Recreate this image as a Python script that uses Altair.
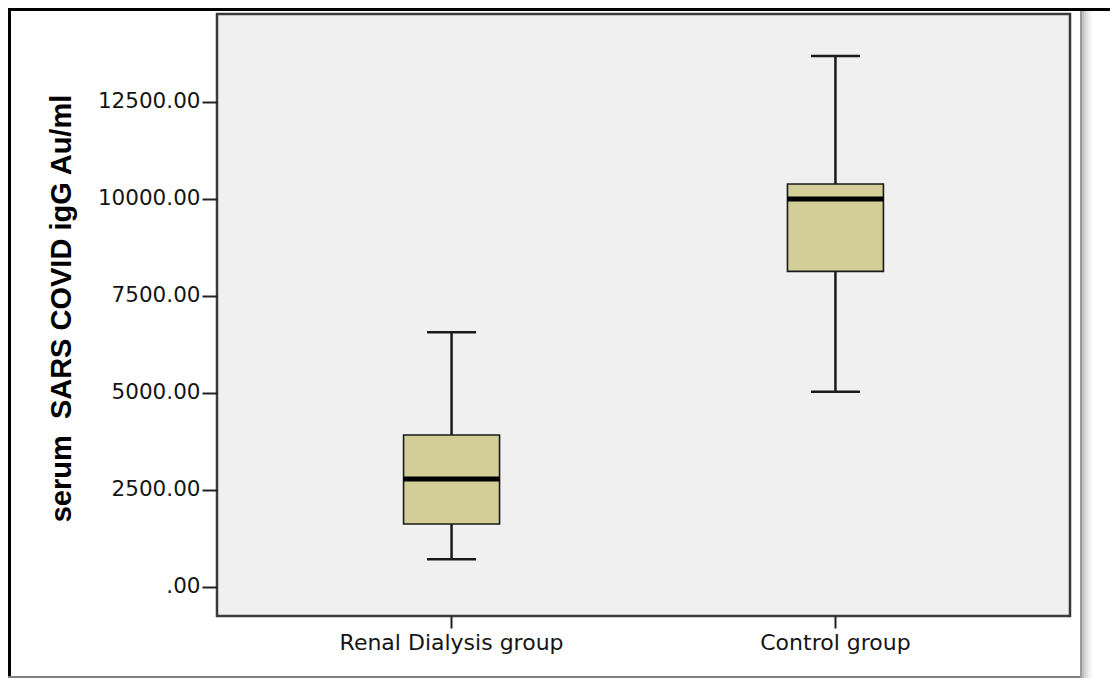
import altair as alt
import pandas as pd

groups = ["Renal Dialysis group", "Control group"]
lower = [706, 5026]
q1 = [1616, 8126]
median = [2776, 9992]
q3 = [3910, 10379]
upper = [6557, 13678]

y_ticks = [0, 2500, 5000, 7500, 10000, 12500]

df = pd.DataFrame({"group": groups, "lower": lower, "q1": q1,
                   "median": median, "q3": q3, "upper": upper})

W, H = 853, 602
PL, PT = 209, 6

xenc = alt.X("group:N", sort=groups,
             scale=alt.Scale(domain=groups, paddingInner=0.75, paddingOuter=0.486),
             axis=alt.Axis(title=None, labelAngle=0, domain=False, ticks=True,
                           tickSize=12, tickWidth=2, tickColor="#222",
                           labelFont="DejaVu Sans", labelFontSize=22, labelLimit=0,
                           labelColor="#151515", labelPadding=4))
yscale = alt.Scale(domain=[-755, 14760], nice=False, zero=False)
yaxis = alt.Axis(title="serum\u00a0 SARS COVID igG Au/ml", values=y_ticks,
                 labelExpr="datum.value == 0 ? '.00' : format(datum.value, '.2f')",
                 grid=False, domain=False, tickSize=15, tickWidth=2, tickColor="#222",
                 labelFont="DejaVu Sans", labelFontSize=21.5, labelColor="#151515",
                 labelPadding=2, labelLimit=0,
                 titleFont="Liberation Sans", titleFontSize=29, titleFontWeight="bold",
                 titleColor="#000", titleX=-147, titleY=294, titleAngle=270,
                 titleAlign="center", titleBaseline="alphabetic", titleLimit=0)

base = alt.Chart(df)

whisk_lo = base.mark_rule(color="#1a1a1a", strokeWidth=2.5).encode(
    x=xenc, y=alt.Y("lower:Q", scale=yscale, axis=yaxis), y2="q1:Q")
whisk_hi = base.mark_rule(color="#1a1a1a", strokeWidth=2.5).encode(
    x=xenc, y=alt.Y("q3:Q", scale=yscale, axis=yaxis), y2="upper:Q")
box = base.mark_bar(color="#d3ce97", stroke="#1a1a1a", strokeWidth=1.6).encode(
    x=xenc, y=alt.Y("q1:Q", scale=yscale, axis=yaxis), y2="q3:Q")
med = base.mark_tick(color="#000", size=96, thickness=5, opacity=1).encode(
    x=xenc, y=alt.Y("median:Q", scale=yscale, axis=yaxis))
cap_lo = base.mark_tick(color="#1a1a1a", size=49, thickness=2.5, opacity=1).encode(
    x=xenc, y=alt.Y("lower:Q", scale=yscale, axis=yaxis))
cap_hi = base.mark_tick(color="#1a1a1a", size=49, thickness=2.5, opacity=1).encode(
    x=xenc, y=alt.Y("upper:Q", scale=yscale, axis=yaxis))

one = alt.Chart(pd.DataFrame({"k": [0]}))
frame_top = one.mark_rule(color="#000", strokeWidth=3).encode(
    x=alt.value(-PL), x2=alt.value(W + 60), y=alt.value(-PT + 1.5))
frame_left = one.mark_rule(color="#000", strokeWidth=3).encode(
    x=alt.value(-PL + 1.5), y=alt.value(-PT), y2=alt.value(662))
frame_bottom = one.mark_rule(color="#555", strokeWidth=1.5).encode(
    x=alt.value(-PL), x2=alt.value(864), y=alt.value(663))
frame_right = one.mark_rule(color="#9a9a9a", strokeWidth=2).encode(
    x=alt.value(864), y=alt.value(-PT + 3), y2=alt.value(664))
shadow = [one.mark_rule(color="#b0b0b0", strokeWidth=2, opacity=op).encode(
    x=alt.value(866 + 2 * i), y=alt.value(-PT + 3), y2=alt.value(664))
    for i, op in enumerate([0.8, 0.55, 0.35, 0.2, 0.1])]

chart = alt.layer(box, whisk_lo, whisk_hi, med, cap_lo, cap_hi,
                  frame_top, frame_left, frame_bottom, frame_right, *shadow
).properties(
    width=W, height=H,
    background="white",
    autosize=alt.AutoSizeParams(type="none"),
    padding={"left": PL, "top": PT, "right": 1102 - PL - W, "bottom": 670 - PT - H},
).configure_view(
    fill="#f0f0f0", stroke="#3a3a3a", strokeWidth=2.5
)

chart.save("out.html", embed_options={"renderer": "svg", "actions": False})
